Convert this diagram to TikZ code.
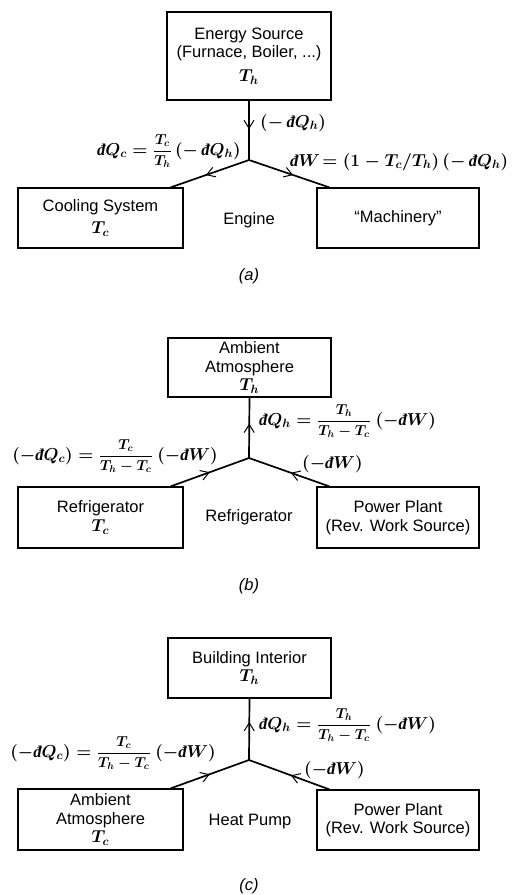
\documentclass[tikz,border=0pt]{standalone}
\usepackage[no-math]{fontspec}
\setmainfont{Liberation Sans}
\newfontfamily\dfont{Liberation Serif}
\usetikzlibrary{arrows.meta,decorations.markings}
\newcommand{\dbr}{\mbox{\dfont\bfseries\itshape đ}}
\newcommand{\fr}[2]{\vcenter{\hbox{\fontsize{14}{16}\selectfont$\displaystyle\frac{#1}{#2}$}}}
\tikzset{
  box/.style={draw, line width=1.2pt, align=center, inner sep=1pt},
  txt/.style={align=center, inner sep=1pt},
  lbl/.style={inner sep=1pt},
  conn/.style={line width=1.7pt},
  midarrow/.style={postaction={decorate}, decoration={markings,
     mark=at position #1 with {\arrow[line width=1pt]{Straight Barb[length=8pt,width=10pt]}}}},
  every node/.style={font=\fontsize{16.5}{18.5}\selectfont\boldmath}
}
\begin{document}
\begin{tikzpicture}[x=1pt,y=-1pt]
\useasboundingbox (0,0) rectangle (512,895);
% ---------- (a) ----------
\node[box, minimum width=164pt, minimum height=88pt] (A1) at (249,56) {Energy Source\\(Furnace, Boiler, ...)\\[5pt]$T_h$};
\node[box, minimum width=165pt, minimum height=60pt] (A2) at (100.5,218) {Cooling System\\[3pt]$T_c$};
\node[box, minimum width=162pt, minimum height=60pt] (A3) at (398,218) {“Machinery”};
\coordinate (ja) at (249,160);
\coordinate (la) at ([xshift=-13pt]A2.north east);
\coordinate (ra) at ([xshift=13pt]A3.north west);
\draw[conn, midarrow=0.48] (A1.south) -- (ja);
\draw[conn, midarrow=0.55] (ja) -- (la);
\draw[conn, midarrow=0.55] (ja) -- (ra);
\node[lbl, anchor=west] (a1) at (259,123) {$(-\,\dbr Q_h)$};
\node[lbl, anchor=east] (a2) at (242,151) {$\dbr Q_c=\fr{T_c}{T_h}\,(-\,\dbr Q_h)$};
\node[lbl, anchor=west] (a3) at (289,162) {$\dbr W\!=(1-T_c/T_h)\,(-\,\dbr Q_h)$};
\node[txt] (ea) at (249,220) {Engine};
\node[txt] (capa) at (249,276) {\itshape (a)};
% ---------- (b) ----------
\node[box, minimum width=163pt, minimum height=59pt] (B1) at (249.5,367.5) {Ambient\\Atmosphere\\$T_h$};
\node[box, minimum width=165pt, minimum height=61pt] (B2) at (100.5,517.5) {Refrigerator\\$T_c$};
\node[box, minimum width=162pt, minimum height=61pt] (B3) at (398,517.5) {Power Plant\\(Rev. Work Source)};
\coordinate (jb) at (249,458);
\coordinate (lb) at ([xshift=-13pt]B2.north east);
\coordinate (rb) at ([xshift=13pt]B3.north west);
\draw[conn, midarrow=0.57] (jb) -- (B1.south);
\draw[conn, midarrow=0.5] (lb) -- (jb);
\draw[conn, midarrow=0.48] (rb) -- (jb);
\node[lbl, anchor=west] (b1) at (258,421) {$\dbr Q_h=\fr{T_h}{T_h-T_c}\ (-\dbr W)$};
\node[lbl, anchor=east] (b2) at (219,456) {$(-\dbr Q_c)=\fr{T_c}{T_h-T_c}\ (-\dbr W)$};
\node[lbl, anchor=west] (b3) at (301,464) {$(-\dbr W)$};
\node[txt] (eb) at (249,517) {Refrigerator};
\node[txt] (capb) at (249,586) {\itshape (b)};
% ---------- (c) ----------
\node[box, minimum width=163pt, minimum height=60pt] (C1) at (249.5,668) {Building Interior\\$T_h$};
\node[box, minimum width=165pt, minimum height=61pt] (C2) at (100.5,819.5) {Ambient\\Atmosphere\\$T_c$};
\node[box, minimum width=162pt, minimum height=60pt] (C3) at (398,820) {Power Plant\\(Rev. Work Source)};
\coordinate (jc) at (249,760);
\coordinate (lc) at ([xshift=-13pt]C2.north east);
\coordinate (rc) at ([xshift=13pt]C3.north west);
\draw[conn, midarrow=0.62] (jc) -- (C1.south);
\draw[conn, midarrow=0.5] (lc) -- (jc);
\draw[conn, midarrow=0.48] (rc) -- (jc);
\node[lbl, anchor=west] (c1) at (258,725) {$\dbr Q_h=\fr{T_h}{T_h-T_c}\ (-\dbr W)$};
\node[lbl, anchor=east] (c2) at (217,753) {$(-\dbr Q_c)=\fr{T_c}{T_h-T_c}\ (-\dbr W)$};
\node[lbl, anchor=west] (c3) at (303,770) {$(-\dbr W)$};
\node[txt] (ec) at (250,822) {Heat Pump};
\node[txt] (capc) at (249,886) {\itshape (c)};
\end{tikzpicture}
\end{document}
